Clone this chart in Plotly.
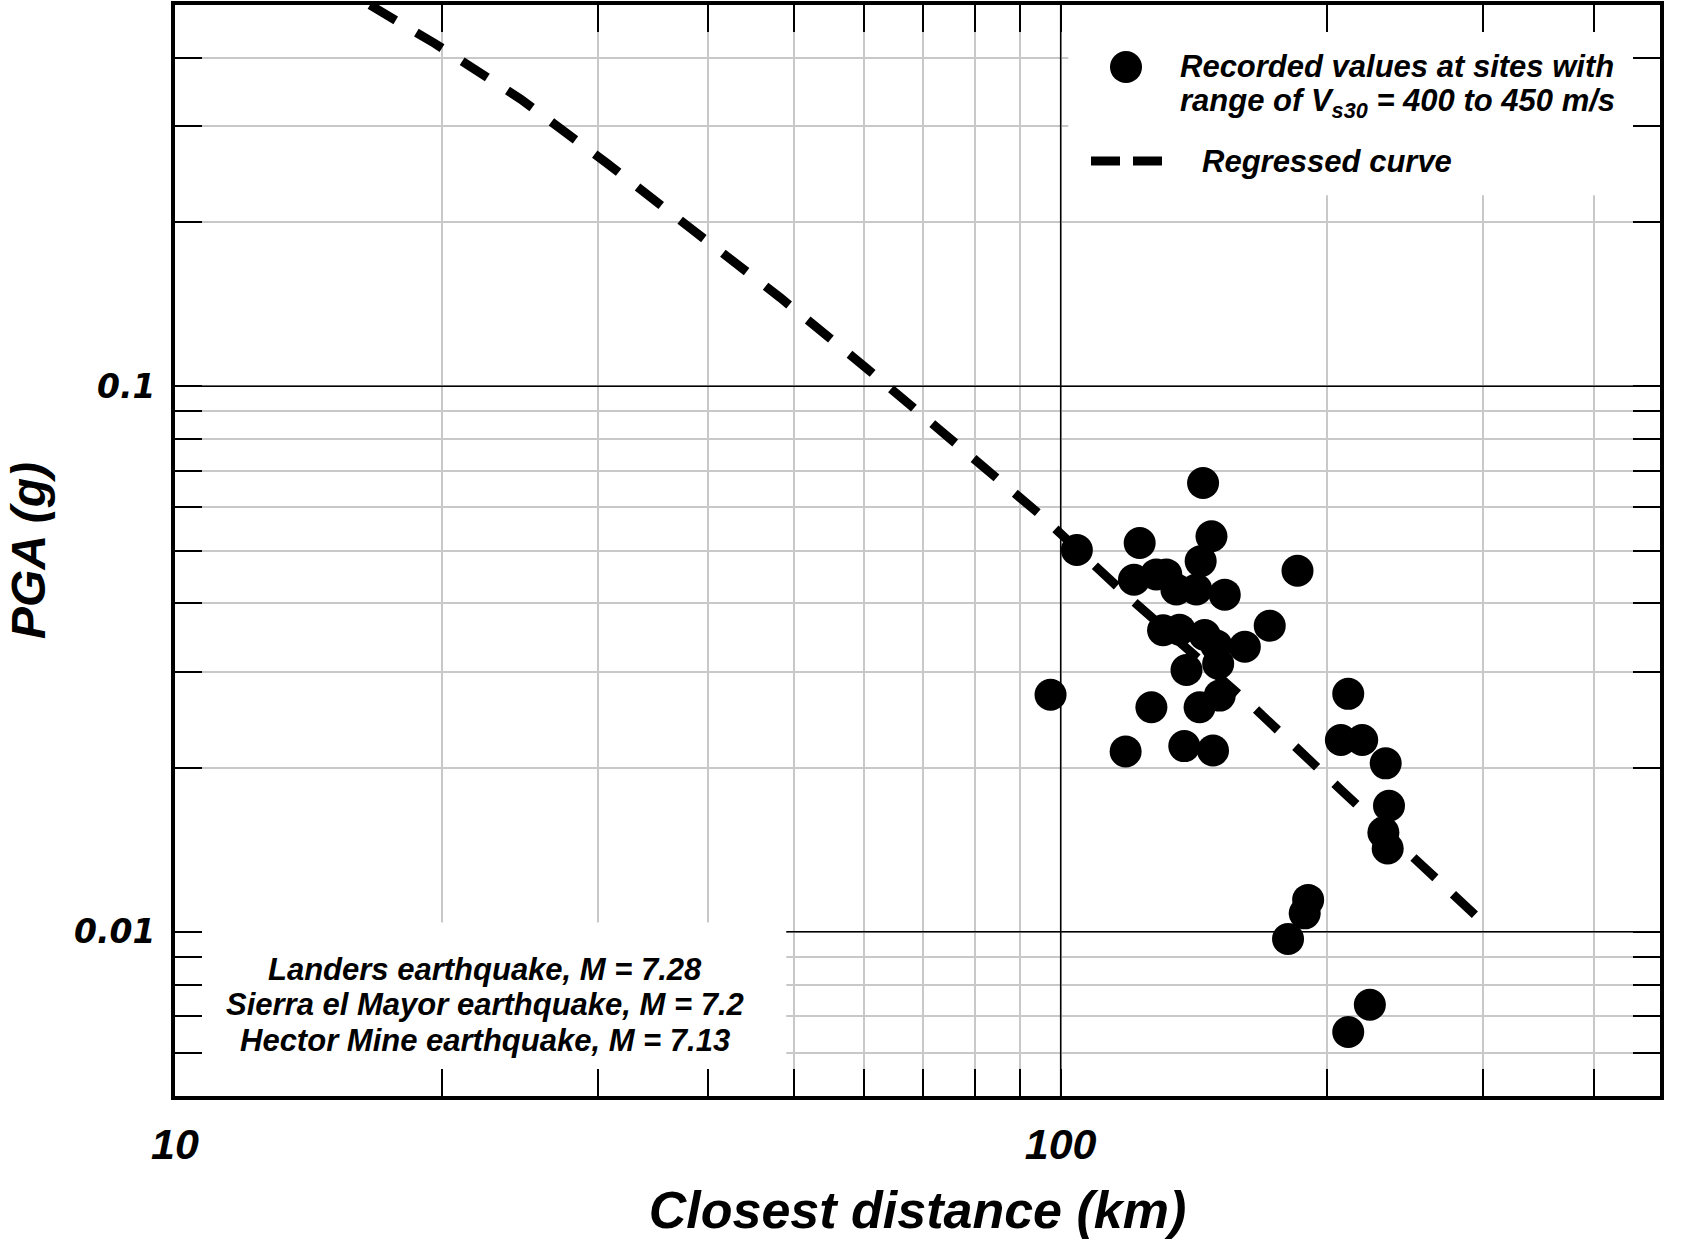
import plotly.graph_objects as go
import math

# ---------------- data ----------------
dist_recorded = [144.8, 148.0, 143.9, 122.8, 104.3, 121.0, 128.2, 131.6, 135.1, 142.3,
                 153.2, 130.5, 136.2, 145.4, 149.9, 161.4, 172.2, 138.7, 150.6, 151.2,
                 143.5, 126.6, 97.4, 118.4, 137.9, 148.6, 185.1, 211.2, 207.2, 219.0,
                 232.8, 234.8, 231.4, 234.0, 190.3, 188.6, 180.6, 223.4, 211.2]
pga_recorded = [0.0665, 0.0531, 0.0478, 0.0516, 0.0501, 0.0442, 0.0452, 0.0452, 0.0424, 0.0424,
                0.0415, 0.0357, 0.0358, 0.0350, 0.0335, 0.0333, 0.0364, 0.0302, 0.0310, 0.0271,
                0.0258, 0.0258, 0.0272, 0.0214, 0.0219, 0.0215, 0.0459, 0.0273, 0.02247, 0.02247,
                0.02036, 0.01702, 0.0152, 0.01421, 0.01144, 0.01081, 0.00970, 0.00735, 0.00655]

dist_curve = [16.6, 19.65, 24.57, 30.78, 38.49, 48.23, 60.5, 75.7, 95.0, 118.5, 166.0, 208.0, 260.0, 300.0]
pga_curve = [0.500, 0.425, 0.336, 0.256, 0.193, 0.1454, 0.1076, 0.0794, 0.058, 0.0415, 0.0256, 0.0181, 0.0129, 0.0104]

x_tick_vals = [10, 20, 30, 40, 50, 60, 70, 80, 90, 100, 200, 300, 400]
x_tick_text = ["10", "", "", "", "", "", "", "", "", "100", "", "", ""]
y_tick_vals = [0.006, 0.007, 0.008, 0.009, 0.01, 0.02, 0.03, 0.04, 0.05, 0.06, 0.07, 0.08, 0.09,
               0.1, 0.2, 0.3, 0.4]
y_tick_text = ["", "", "", "", "0.01", "", "", "", "", "", "", "", "", "0.1", "", "", ""]
x_range = [10, 475]
y_range = [0.005, 0.5]

legend_texts = ["Recorded values at sites with",
                "range of V<sub>s30</sub> = 400 to 450 m/s",
                "Regressed curve"]
event_texts = ["Landers earthquake, M = 7.28",
               "Sierra el Mayor earthquake, M = 7.2",
               "Hector Mine earthquake, M = 7.13"]

# ---------------- styling ----------------
W, H = 1681, 1239
PL, PR, PT, PB = 175, 1660, 5, 1096
NARROW = "Liberation Sans Narrow, Arial Narrow, Liberation Sans, sans-serif"
WIDE = "DejaVu Sans, Verdana, sans-serif"
GRID = "#c8c8c8"


def px_x(px):
    return (px - PL) / (PR - PL)


def px_y(py):
    return (PB - py) / (PB - PT)


fig = go.Figure()
fig.add_trace(go.Scatter(
    x=dist_curve, y=pga_curve, mode="lines",
    line=dict(color="black", width=9, dash="30px,24px"),
    name="Regressed curve", showlegend=False, cliponaxis=True))
fig.add_trace(go.Scatter(
    x=dist_recorded, y=pga_recorded, mode="markers",
    marker=dict(color="black", size=32, line=dict(width=0)),
    name="Recorded values", showlegend=False, cliponaxis=True))

shapes = []
# white box behind the event text (lower left)
shapes.append(dict(type="rect", xref="x", yref="y", layer="between",
                   x0=x_range[0], x1=49, y0=y_range[0], y1=0.0104,
                   fillcolor="white", line=dict(width=0)))
# white box behind the legend (upper right)
shapes.append(dict(type="rect", xref="x", yref="y", layer="between",
                   x0=102, x1=x_range[1], y0=0.224, y1=y_range[1],
                   fillcolor="white", line=dict(width=0)))
# major grid lines (black)
shapes.append(dict(type="line", xref="x", yref="y", layer="between",
                   x0=100, x1=100, y0=y_range[0], y1=y_range[1],
                   line=dict(color="black", width=1.5)))
shapes.append(dict(type="line", xref="x", yref="y", layer="between",
                   x0=x_range[0], x1=x_range[1], y0=0.1, y1=0.1,
                   line=dict(color="black", width=1.5)))
shapes.append(dict(type="line", xref="x", yref="y", layer="between",
                   x0=49, x1=x_range[1], y0=0.01, y1=0.01,
                   line=dict(color="black", width=1.5)))
# legend symbols
shapes.append(dict(type="circle", xref="paper", yref="paper",
                   xsizemode="pixel", ysizemode="pixel",
                   xanchor=px_x(1126), yanchor=px_y(67),
                   x0=-16, x1=16, y0=-16, y1=16,
                   fillcolor="black", line=dict(width=0)))
shapes.append(dict(type="line", xref="paper", yref="paper",
                   x0=px_x(1091), x1=px_x(1162), y0=px_y(161), y1=px_y(161),
                   line=dict(color="black", width=9, dash="29px,13px")))

annotations = []
annotations.append(dict(text=legend_texts[0], xref="paper", yref="paper",
                        x=px_x(1178), y=px_y(67), xanchor="left", yanchor="middle",
                        showarrow=False,
                        font=dict(family=NARROW, size=31, color="black", weight="bold", style="italic")))
annotations.append(dict(text=legend_texts[1], xref="paper", yref="paper",
                        x=px_x(1178), y=px_y(103), xanchor="left", yanchor="middle",
                        showarrow=False,
                        font=dict(family=NARROW, size=31, color="black", weight="bold", style="italic")))
annotations.append(dict(text=legend_texts[2], xref="paper", yref="paper",
                        x=px_x(1200), y=px_y(161), xanchor="left", yanchor="middle",
                        showarrow=False,
                        font=dict(family=NARROW, size=31, color="black", weight="bold", style="italic")))
for i, t in enumerate(event_texts):
    annotations.append(dict(text=t, xref="paper", yref="paper",
                            x=px_x(485), y=px_y(969 + 35.5 * i), xanchor="center", yanchor="middle",
                            showarrow=False,
                            font=dict(family=NARROW, size=31, color="black", weight="bold", style="italic")))

fig.update_layout(
    width=W, height=H,
    margin=dict(l=PL, r=W - PR, t=PT, b=H - PB, autoexpand=False),
    paper_bgcolor="white", plot_bgcolor="white",
    showlegend=False,
    shapes=shapes, annotations=annotations,
    xaxis=dict(
        type="log", range=[math.log10(v) for v in x_range],
        tickmode="array", tickvals=x_tick_vals, ticktext=x_tick_text,
        ticks="inside", ticklen=27, tickwidth=2, tickcolor="black",
        showline=True, linewidth=4, linecolor="black", mirror="allticks",
        showgrid=True, gridcolor=GRID, gridwidth=1.5, zeroline=False,
        tickfont=dict(family=NARROW, size=43, color="black", weight="bold", style="italic"),
        ticklabelstandoff=7,
        title=dict(text="Closest distance (km)", standoff=36,
                   font=dict(family=NARROW, size=52, color="black", weight="bold", style="italic")),
    ),
    yaxis=dict(
        type="log", range=[math.log10(v) for v in y_range],
        tickmode="array", tickvals=y_tick_vals, ticktext=y_tick_text,
        ticks="inside", ticklen=27, tickwidth=2, tickcolor="black",
        showline=True, linewidth=4, linecolor="black", mirror="allticks",
        showgrid=True, gridcolor=GRID, gridwidth=1.5, zeroline=False,
        tickfont=dict(family=WIDE, size=33, color="black", weight="bold", style="italic"),
        ticklabelstandoff=9,
        title=dict(text="PGA (g)", standoff=14,
                   font=dict(family=NARROW, size=48, color="black", weight="bold", style="italic")),
    ),
)

fig.write_html("out.html")
